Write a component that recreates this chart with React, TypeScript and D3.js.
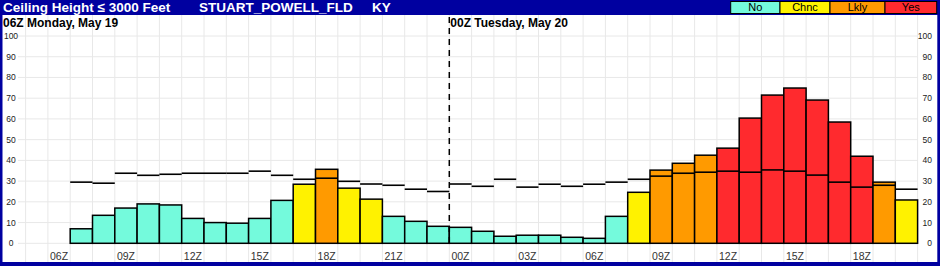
import React from "react";
import * as d3 from "d3";

// hours since 06Z Monday for each bar start (07Z Mon .. 20Z Tue)
const barHours: number[] = d3.range(1, 39);
const probValues: number[] = [
  7, 13.5, 17, 19, 18.5, 12, 10, 9.7, 12, 20.7, 28.5, 35.7, 26.6, 21.3, 13, 10.6, 8.2,
  7.7, 5.8, 3.4, 3.9, 3.9, 2.9, 2.4, 13, 24.6, 35.3, 38.6, 42.5, 45.9, 60.4, 71.5, 74.9, 69.1, 58.5, 42, 29.5, 20.9,
];
const categories: string[] = [
  "No", "No", "No", "No", "No", "No", "No", "No", "No", "No", "Chnc", "Lkly", "Chnc", "Chnc", "No", "No", "No",
  "No", "No", "No", "No", "No", "No", "No", "No", "Chnc", "Lkly", "Lkly", "Lkly", "Yes", "Yes", "Yes", "Yes", "Yes", "Yes", "Yes", "Lkly", "Chnc",
];
const lineValues: number[] = [
  29.5, 29.0, 33.8, 32.8, 33.3, 33.8, 33.8, 33.8, 34.8, 32.8, 30.9, 31.4, 29.9, 28.6, 28.0, 26.1, 25.0,
  28.6, 27.5, 30.9, 27.1, 28.5, 27.5, 28.5, 29.5, 30.9, 32.4, 33.8, 34.3, 34.8, 34.3, 35.4, 34.8, 32.9, 29.5, 27.1, 28.0, 26.1,
];
const tickHours: number[] = [0, 3, 6, 9, 12, 15, 18, 21, 24, 27, 30, 33, 36];
const tickLabels: string[] = ["06Z", "09Z", "12Z", "15Z", "18Z", "21Z", "00Z", "03Z", "06Z", "09Z", "12Z", "15Z", "18Z"];
const yTicks: number[] = [0, 10, 20, 30, 40, 50, 60, 70, 80, 90, 100];
const legendNames: string[] = ["No", "Chnc", "Lkly", "Yes"];
const legendColors: string[] = ["#74fadc", "#fff200", "#ff9a00", "#ff2a2e"];
const dayLabels: string[] = ["06Z Monday, May 19", "00Z Tuesday, May 20"];
const dayHours: number[] = [0, 18];
const titleParts: string[] = ["Ceiling Height \u2264 3000 Feet", "STUART_POWELL_FLD", "KY"];

const W = 940;
const H = 266;

export default function App() {
  const x = d3.scaleLinear().domain([0, 39]).range([47.9, 917.6]);
  const y = d3.scaleLinear().domain([0, 100]).range([243.3, 36]);
  const color = d3.scaleOrdinal<string, string>().domain(legendNames).range(legendColors);
  const legendWidths = [49.3, 50, 55, 51.7];
  let lx = 730.7;
  const legendPos = legendWidths.map((w) => {
    const p = lx;
    lx += w;
    return p;
  });
  const gridHours = d3.range(-1, 40);
  const font = "Arial, 'Liberation Sans', sans-serif";

  return (
    <svg width={W} height={H} style={{ position: "absolute", left: 0, top: 0 }} fontFamily={font}>
      <rect x={0} y={0} width={W} height={H} fill="#0000a0" />
      <rect x={2.5} y={15} width={934.8} height={247} fill="#ffffff" />
      {/* grid */}
      {gridHours.map((h) => (
        <line key={"vg" + h} x1={x(h)} x2={x(h)} y1={15} y2={262} stroke="#e8e8e8" strokeWidth={1} />
      ))}
      {yTicks.map((t) => (
        <line key={"hg" + t} x1={18} x2={918} y1={y(t)} y2={y(t)} stroke="#e8e8e8" strokeWidth={1} />
      ))}
      {/* bars */}
      {barHours.map((h, i) => (
        <rect
          key={"b" + i}
          x={x(h)}
          y={y(probValues[i])}
          width={x(h + 1) - x(h)}
          height={y(0) - y(probValues[i])}
          fill={color(categories[i])}
          stroke="#000"
          strokeWidth={1.5}
        />
      ))}
      {/* line segments */}
      {barHours.map((h, i) => (
        <line
          key={"l" + i}
          x1={x(h)}
          x2={x(h + 1)}
          y1={y(lineValues[i])}
          y2={y(lineValues[i])}
          stroke="#000"
          strokeWidth={1.6}
        />
      ))}
      {/* day divider */}
      <line x1={x(18)} x2={x(18)} y1={17} y2={246} stroke="#000" strokeWidth={1.5} strokeDasharray="6,5" />
      {/* day labels */}
      {dayLabels.map((d, i) => (
        <text key={"d" + i} x={i === 0 ? 3 : x(dayHours[i]) + 1} y={26.5} fontSize={12} fontWeight="bold" fill="#000">
          {d}
        </text>
      ))}
      {/* y labels */}
      {yTicks.map((t) => (
        <text key={"yl" + t} x={11} y={y(t)} dy="0.35em" fontSize={8.5} textAnchor="middle" fill="#222">
          {t}
        </text>
      ))}
      {yTicks.map((t) => (
        <text key={"yr" + t} x={932} y={y(t)} dy="0.35em" fontSize={8.5} textAnchor="end" fill="#222">
          {t}
        </text>
      ))}
      {/* x labels */}
      {tickHours.map((h, i) => (
        <text key={"x" + i} x={x(h + 0.5)} y={259.5} fontSize={10.5} textAnchor="middle" fill="#333">
          {tickLabels[i]}
        </text>
      ))}
      {/* header */}
      <text x={3} y={12} fontSize={13.5} fontWeight="bold" fill="#fff">
        {titleParts[0]}
      </text>
      <text x={199} y={12} fontSize={13.5} fontWeight="bold" fill="#fff">
        {titleParts[1]}
      </text>
      <text x={372} y={12} fontSize={13.5} fontWeight="bold" fill="#fff">
        {titleParts[2]}
      </text>
      {legendNames.map((n, i) => (
        <g key={"lg" + n}>
          <rect x={legendPos[i]} y={1.5} width={legendWidths[i]} height={12} fill={legendColors[i]} stroke="#000" strokeWidth={1} />
          <text x={legendPos[i] + legendWidths[i] / 2} y={11} fontSize={11} textAnchor="middle" fill="#000">
            {n}
          </text>
        </g>
      ))}
    </svg>
  );
}
